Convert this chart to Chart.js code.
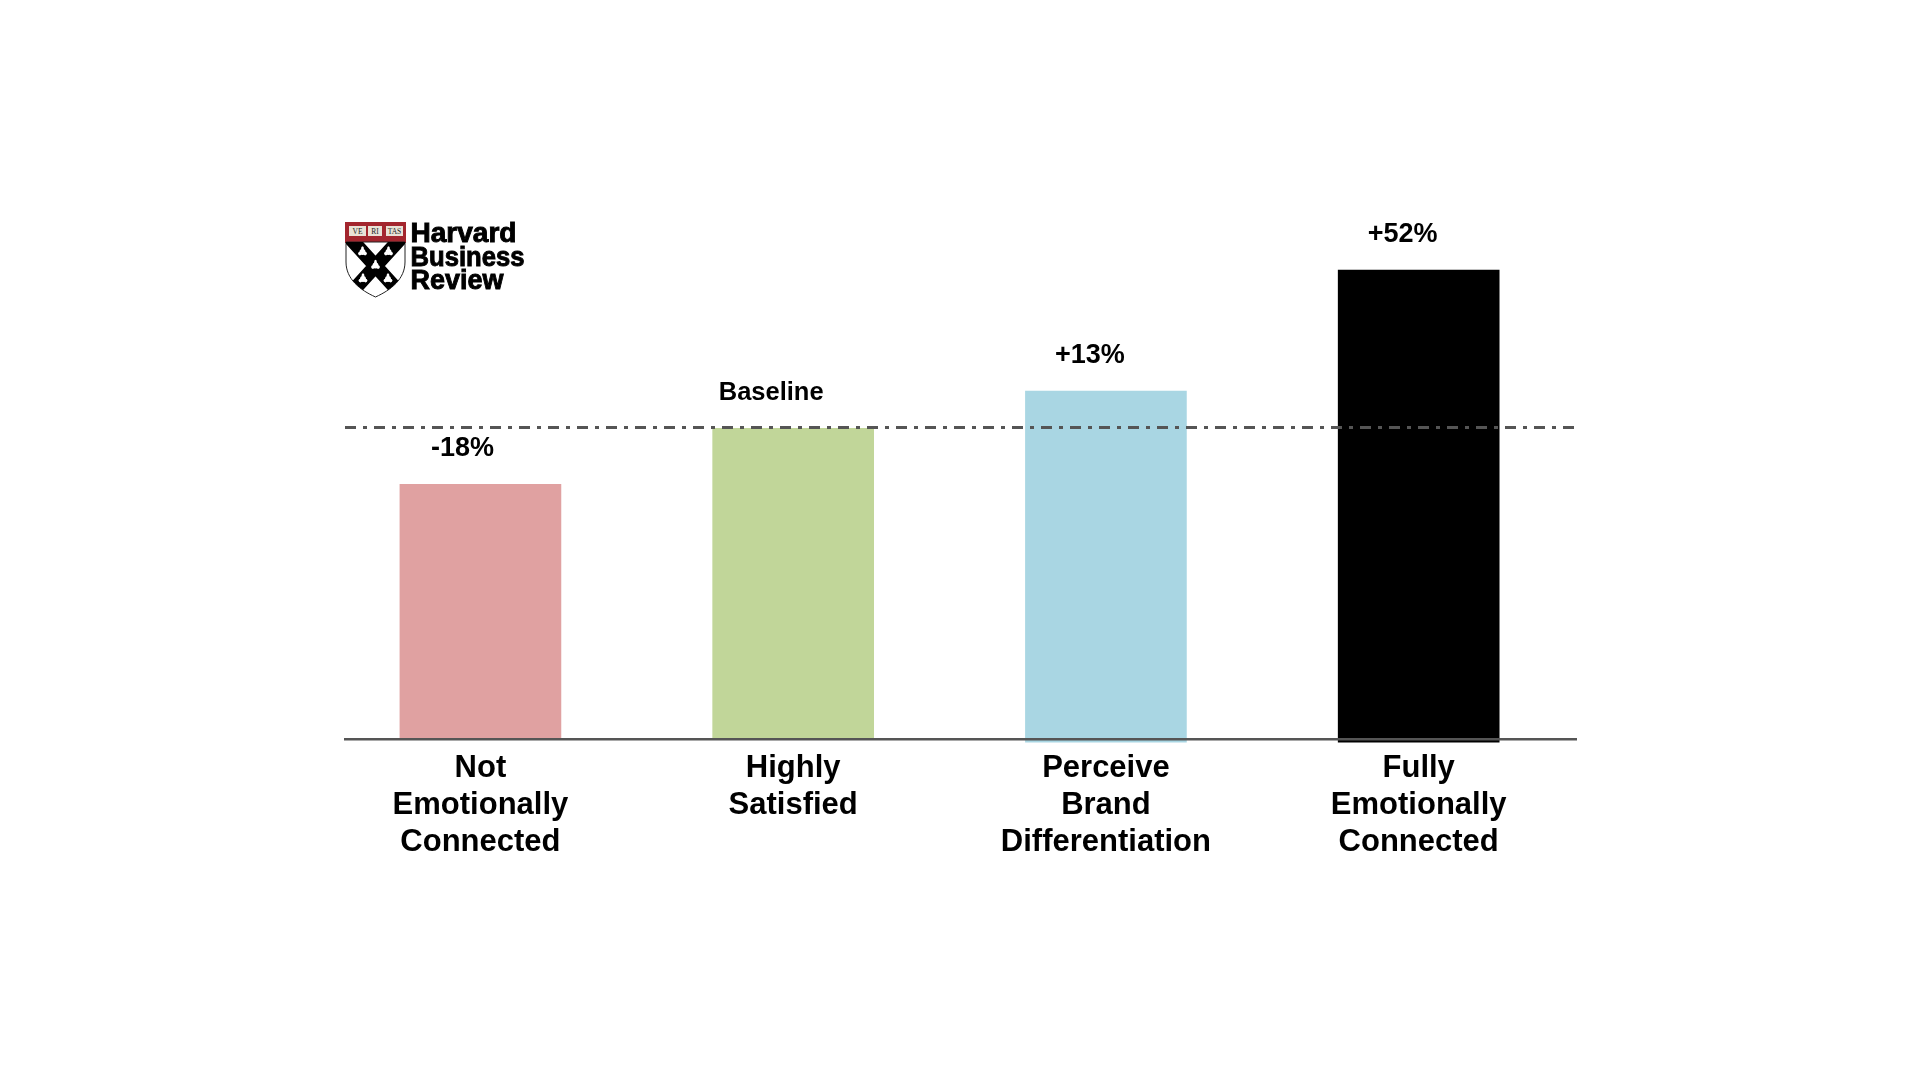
<!DOCTYPE html>
<html><head><meta charset="utf-8">
<style>
html,body{margin:0;padding:0;background:#fff;width:1920px;height:1080px;overflow:hidden}
#wrap{position:relative;width:1920px;height:1080px}
canvas{position:absolute;left:0;top:0}
svg{position:absolute;left:0;top:0}
</style>
<script src="https://cdn.jsdelivr.net/npm/chart.js@4"></script>
</head><body><div id="wrap"><canvas id="c" width="1920" height="1080"></canvas>
<svg width="1920" height="1080" viewBox="0 0 1920 1080">
<defs><clipPath id="sh"><path d="M346 242H405V262C405 279 391 290 375.5 297C360 290 346 279 346 262Z"/></clipPath>
<g id="fl"><circle cx="0" cy="0" r="3"/><ellipse cx="0" cy="-3" rx="1.4" ry="2.8"/><ellipse cx="-2.6" cy="1.6" rx="1.8" ry="1.8"/><ellipse cx="2.6" cy="1.6" rx="1.8" ry="1.8"/></g></defs>
<rect x="345" y="222" width="61" height="21" fill="#a3262e"/>
<g fill="#e9e2d6"><rect x="349" y="226" width="17" height="10"/><rect x="368" y="226" width="14" height="10"/><rect x="386" y="226" width="17" height="10"/></g>
<g font-family="Liberation Serif" font-size="7.5" fill="#222" text-anchor="middle"><text x="357.5" y="234">VE</text><text x="375" y="234">RI</text><text x="394.5" y="234">TAS</text></g>
<path d="M346 242H405V262C405 279 391 290 375.5 297C360 290 346 279 346 262Z" fill="#fff" stroke="#222" stroke-width="1"/>
<g clip-path="url(#sh)" stroke="#000" stroke-width="14"><path d="M350 238L401 294M401 238L350 294"/></g>
<g fill="#fff"><use href="#fl" x="362.5" y="252"/><use href="#fl" x="388.5" y="252"/><use href="#fl" x="375.5" y="265.5"/><use href="#fl" x="363" y="279"/><use href="#fl" x="388" y="279"/></g>
<g font-family="Liberation Sans" font-weight="700" font-size="27" fill="#000" stroke="#000" stroke-width=".9">
<text x="410.5" y="242" textLength="106" lengthAdjust="spacingAndGlyphs">Harvard</text><text x="410.5" y="265.5" textLength="114" lengthAdjust="spacingAndGlyphs">Business</text><text x="410.5" y="289" textLength="93" lengthAdjust="spacingAndGlyphs">Review</text></g>
</svg></div>
<script>
const categories=[["Not","Emotionally","Connected"],["Highly","Satisfied"],["Perceive","Brand","Differentiation"],["Fully","Emotionally","Connected"]];
const positions=[0,1,2,3];
const values=[82,100,112,151];
const bases=[0,0,-1,-1];
const valueLabels=["-18%","Baseline","+13%","+52%"];
const barColors=["#e0a1a1","#c1d699","#a9d6e3","#000000"];
const baseline=100.3;
const xMin=-0.433,xMax=3.503,yMax=151;
const labelShift=[-18,-22,-16,-16];
const labelSize=[27,25.5,27,27];

const labelPlugin={id:'vals',afterDatasetsDraw(ch){
 const {ctx,scales:{x,y}}=ch;ctx.save();
 ctx.fillStyle='#000';ctx.textAlign='center';ctx.textBaseline='alphabetic';
 valueLabels.forEach((t,i)=>{ctx.font='bold '+labelSize[i]+'px "Liberation Sans"';ctx.fillText(t,x.getPixelForValue(positions[i])+labelShift[i],y.getPixelForValue(values[i])-28);});
 ctx.restore();}};

new Chart(document.getElementById('c'),{
 data:{datasets:[
  {type:'bar',data:positions.map((p,i)=>({x:p,y:[bases[i],values[i]]})),backgroundColor:barColors,barThickness:161,clip:false,order:2},
  {type:'line',data:[{x:xMin,y:baseline},{x:xMax,y:baseline}],borderColor:'#555555',borderWidth:3,borderDash:[11,7,4,7],pointRadius:0,order:1}
 ]},
 options:{responsive:false,animation:false,
  layout:{padding:{left:345,right:344,top:270,bottom:0}},
  plugins:{legend:{display:false},tooltip:{enabled:false}},
  scales:{
   x:{type:'linear',min:xMin,max:xMax,offset:false,
      afterBuildTicks(a){a.ticks=positions.map(v=>({value:v}));},
      afterFit(a){a.height=1080-739;},
      grid:{display:true,drawOnChartArea:false,drawTicks:false,z:1},
      border:{display:true,color:'#555',width:2.5,z:1},
      ticks:{autoSkip:false,maxRotation:0,padding:11,color:'#000',font:{family:'Liberation Sans',weight:'bold',size:31,lineHeight:1.19},
        callback:v=>categories[positions.indexOf(v)]}},
   y:{min:0,max:yMax,display:false}
  }
 },
 plugins:[labelPlugin]
});
</script></body></html>
